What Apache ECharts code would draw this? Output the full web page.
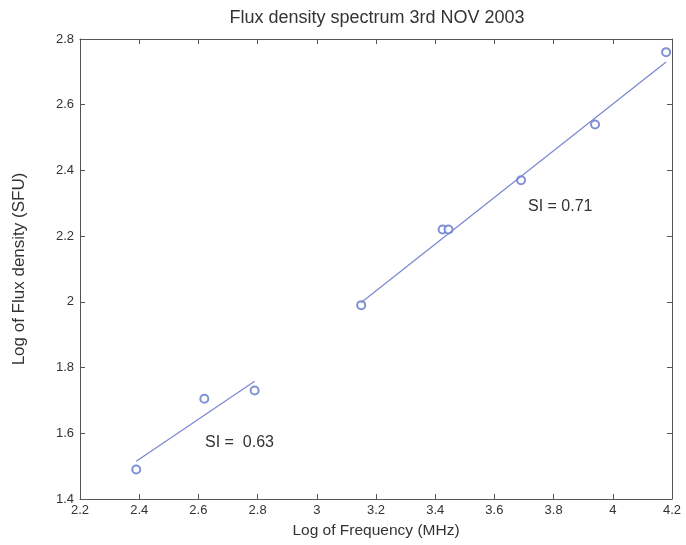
<!DOCTYPE html>
<html>
<head>
<meta charset="utf-8">
<script src="https://cdn.jsdelivr.net/npm/echarts@6/dist/echarts.min.js"></script>
<style>
  html, body { margin: 0; padding: 0; background: #fff; }
  #chart { width: 686px; height: 545px; }
</style>
</head>
<body>
<div id="chart"></div>
<script>
// measured points (log frequency, log flux density)
var logFreq = [2.39, 2.62, 2.79, 3.15, 3.425, 3.445, 3.69, 3.94, 4.18]
var logFlux = [1.49, 1.705, 1.73, 1.99, 2.22, 2.22, 2.37, 2.54, 2.76]

// fitted lines
var lowFitX = [2.39, 2.79]
var lowFitY = [1.515, 1.758]
var highFitX = [3.15, 4.18]
var highFitY = [1.998, 2.73]

var xTicks = [2.2, 4.2, 0.2]   // min, max, step
var yTicks = [1.4, 2.8, 0.2]

var chart = echarts.init(document.getElementById('chart'))

var font = 'Liberation Sans, Arial, sans-serif'
var axisCol = '#555'

function pairs(xs, ys) {
  return xs.map(function (x, i) { return [x, ys[i]] })
}

function boxAxis(pos, range, show) {
  return {
    type: 'value',
    position: pos,
    min: range[0],
    max: range[1],
    interval: range[2],
    splitLine: { show: false },
    axisLine: { show: true, onZero: false, lineStyle: { color: axisCol, width: 1 } },
    axisTick: { show: true, inside: true, length: 5, lineStyle: { color: axisCol } },
    axisLabel: {
      show: show,
      color: '#333',
      fontFamily: font,
      fontSize: 13,
      margin: 5,
      showMinLabel: true,
      showMaxLabel: true
    }
  }
}

var xBottom = boxAxis('bottom', xTicks, true)
xBottom.name = 'Log of Frequency (MHz)'
xBottom.nameLocation = 'middle'
xBottom.nameGap = 24
xBottom.nameTextStyle = { fontFamily: font, fontSize: 15.5, color: '#333' }

var yLeft = boxAxis('left', yTicks, true)
yLeft.name = 'Log of Flux density (SFU)'
yLeft.nameLocation = 'middle'
yLeft.nameGap = 52
yLeft.nameTextStyle = { fontFamily: font, fontSize: 17, color: '#333' }
yLeft.axisLabel.margin = 6

chart.setOption({
  animation: false,
  backgroundColor: '#fff',
  title: {
    text: 'Flux density spectrum 3rd NOV 2003',
    left: 372,
    textAlign: 'center',
    top: 4,
    textStyle: { fontFamily: font, fontSize: 18, fontWeight: 'normal', color: '#333' }
  },
  grid: { left: 80, right: 14, top: 39, bottom: 46 },
  xAxis: [xBottom, boxAxis('top', xTicks, false)],
  yAxis: [yLeft, boxAxis('right', yTicks, false)],
  graphic: [
    { type: 'text', left: 528, top: 199, style: { text: 'SI = 0.71', font: '16px ' + font, fill: '#333' } },
    { type: 'text', left: 205, top: 435, style: { text: 'SI =  0.63', font: '16px ' + font, fill: '#333' } }
  ],
  series: [
    {
      type: 'line',
      data: pairs(lowFitX, lowFitY),
      symbol: 'none',
      lineStyle: { color: '#7a86d2', width: 1.2 }
    },
    {
      type: 'line',
      data: pairs(highFitX, highFitY),
      symbol: 'none',
      lineStyle: { color: '#7a86d2', width: 1.2 }
    },
    {
      type: 'scatter',
      data: pairs(logFreq, logFlux),
      symbol: 'emptyCircle',
      symbolSize: 8,
      itemStyle: { color: '#6075c8', borderWidth: 1 }
    }
  ]
})
</script>
</body>
</html>
